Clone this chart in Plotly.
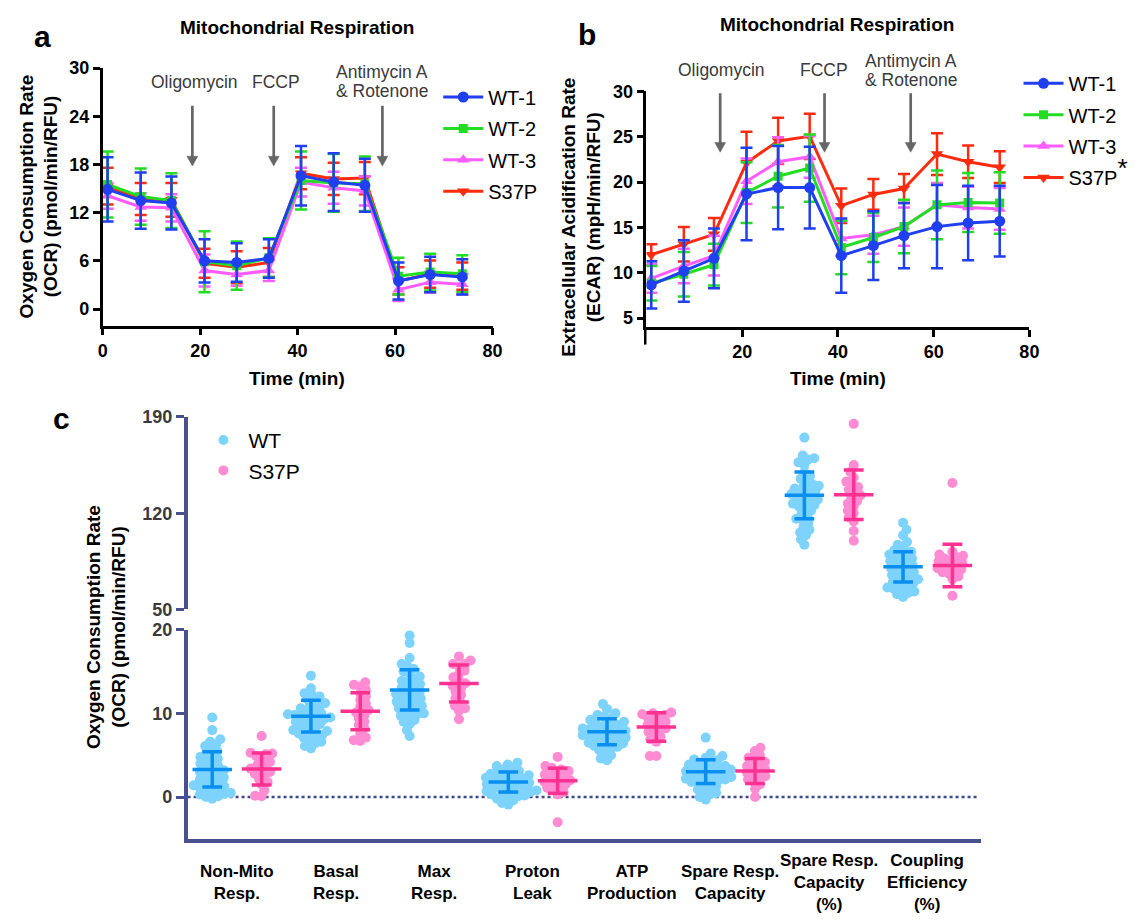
import numpy as np
import plotly.graph_objects as go

W, H = 1144, 924
FONT = "Liberation Sans, Arial, sans-serif"

# ---------------- panels a / b : time courses ----------------
time_min = [1.0, 7.8, 14.1, 20.9, 27.5, 34.1, 40.7, 47.4, 53.8, 60.7, 67.2, 73.8]
series_names = ["WT-1", "WT-2", "WT-3", "S37P"]

ocr_wt1 = [14.9, 13.5, 13.2, 6.0, 5.8, 6.3, 16.6, 15.8, 15.4, 3.5, 4.3, 4.0]
ocr_wt1_sd = [4.0, 3.5, 3.3, 2.7, 2.4, 2.4, 3.7, 3.6, 3.3, 2.3, 2.2, 2.2]
ocr_wt2 = [15.5, 14.0, 13.5, 5.9, 5.4, 6.4, 16.0, 15.7, 15.6, 4.1, 4.6, 4.4]
ocr_wt2_sd = [4.1, 3.5, 3.4, 3.8, 3.0, 2.4, 3.6, 3.6, 3.4, 2.3, 2.3, 2.3]
ocr_wt3 = [14.1, 12.7, 12.6, 4.8, 4.3, 4.8, 15.8, 15.1, 14.7, 2.4, 3.35, 3.1]
ocr_wt3_sd = [1.6, 1.7, 1.7, 2.0, 1.4, 1.3, 1.8, 2.0, 1.8, 1.4, 1.3, 1.3]
ocr_s37p = [15.3, 13.7, 13.6, 5.7, 5.2, 5.8, 16.9, 16.2, 16.3, 3.5, 4.35, 4.1]
ocr_s37p_sd = [2.3, 2.0, 2.1, 1.8, 2.0, 1.8, 2.0, 2.0, 2.0, 1.7, 1.7, 1.7]

ecar_wt1 = [8.67, 10.2, 11.6, 18.7, 19.4, 19.4, 11.9, 13.0, 14.1, 15.1, 15.5, 15.7]
ecar_wt1_sd = [2.6, 3.4, 3.3, 5.1, 4.6, 4.5, 4.1, 3.8, 3.6, 4.6, 4.1, 3.9]
ecar_wt2 = [8.85, 9.85, 10.9, 18.85, 20.65, 21.55, 12.8, 13.9, 15.1, 17.5, 17.75, 17.7]
ecar_wt2_sd = [1.9, 2.45, 2.3, 3.35, 3.45, 3.7, 2.95, 2.7, 2.95, 3.8, 3.25, 3.4]
ecar_wt3 = [9.4, 10.75, 11.9, 20.1, 22.25, 22.8, 13.8, 14.2, 15.1, 17.5, 17.2, 17.05]
ecar_wt3_sd = [1.6, 1.9, 2.2, 2.5, 2.7, 2.3, 1.9, 2.1, 2.1, 2.4, 2.3, 2.3]
ecar_s37p = [12.0, 13.15, 14.25, 22.15, 24.55, 25.05, 17.4, 18.65, 19.3, 23.1, 22.25, 21.65]
ecar_s37p_sd = [1.15, 1.9, 1.8, 3.4, 2.55, 2.5, 1.9, 1.7, 1.6, 2.3, 1.8, 1.75]

injection_a = [18.4, 35.1, 57.4]      # arrow x (min), panel a
injection_b = [15.4, 37.2, 55.2]      # arrow x (min), panel b

# ---------------- panel c : scatter dot plots ----------------
metric_labels = ["Non-Mito<br>Resp.", "Basal<br>Resp.", "Max<br>Resp.", "Proton<br>Leak",
                 "ATP<br>Production", "Spare Resp.<br>Capacity",
                 "Spare Resp.<br>Capacity<br>(%)", "Coupling<br>Efficiency<br>(%)"]
wt_mean = [3.3, 9.66, 12.8, 1.8, 7.8, 3.04, 133.0, 81.0]
wt_sd = [2.1, 1.9, 2.4, 1.2, 1.56, 1.42, 17.0, 11.0]
s37p_mean = [3.35, 10.25, 13.56, 1.95, 8.38, 3.12, 133.5, 82.0]
s37p_sd = [1.9, 2.2, 2.2, 1.5, 1.7, 1.5, 18.0, 15.5]

wt_non_mito = [9.5, 8.0, 6.9, 6.6, 6.3, 6.1, 5.8, 5.5, 5.3, 5.0, 4.8, 4.6, 4.4, 4.2, 4.0, 3.8, 3.6, 3.4, 3.2, 3.0,
               2.9, 2.7, 2.5, 2.3, 2.1, 1.9, 1.8, 1.6, 1.4, 1.3, 1.1, 1.0, 0.8, 0.7, 0.5, 0.4, 0.3, 0.1, 0.0, -0.2]
s37p_non_mito = [7.3, 5.3, 5.2, 5.1, 4.9, 4.5, 4.2, 3.9, 3.6, 3.4, 3.2, 3.0, 2.8, 2.6, 2.2, 1.8, 1.5, 0.8, 0.15, 0.1]
wt_basal = [14.5, 13.0, 12.4, 12.2, 12.0, 11.7, 11.4, 11.2, 11.0, 10.8, 10.6, 10.4, 10.2, 10.0, 9.9, 9.8, 9.7, 9.6,
            9.5, 9.4, 9.3, 9.2, 9.0, 8.9, 8.7, 8.5, 8.4, 8.2, 8.0, 7.9, 7.7, 7.6, 7.4, 7.3, 7.1, 6.9, 6.6, 6.4, 6.1, 5.8]
s37p_basal = [13.7, 13.4, 13.2, 12.8, 12.4, 12.0, 11.6, 11.2, 10.8, 10.4, 10.1, 9.8, 9.4, 9.0, 8.6, 8.2, 7.6, 7.1, 6.8, 6.7]
wt_max = [19.3, 18.4, 16.6, 15.9, 15.6, 15.3, 15.0, 14.7, 14.4, 14.1, 13.9, 13.7, 13.5, 13.3, 13.1, 12.9, 12.7, 12.5,
          12.3, 12.2, 12.0, 11.8, 11.6, 11.4, 11.3, 11.1, 10.9, 10.8, 10.6, 10.4, 10.2, 10.0, 9.9, 9.7, 9.5, 9.2, 9.0,
          8.7, 8.0, 7.3]
s37p_max = [16.8, 16.3, 15.9, 15.9, 15.6, 15.1, 14.7, 14.3, 13.9, 13.6, 13.3, 13.0, 12.6, 12.2, 11.8, 11.3, 10.9, 10.6,
            10.3, 9.3]
wt_proton = [4.1, 3.9, 3.7, 3.5, 3.3, 3.1, 3.0, 2.8, 2.7, 2.6, 2.5, 2.4, 2.3, 2.2, 2.1, 2.0, 1.9, 1.8, 1.7, 1.6,
             1.5, 1.4, 1.3, 1.2, 1.1, 1.0, 0.9, 0.8, 0.7, 0.6, 0.5, 0.4, 0.3, 0.2, 0.1, 0.0, -0.2, -0.4, -0.7, -0.9]
s37p_proton = [4.8, 3.7, 3.5, 3.3, 3.1, 2.9, 2.7, 2.5, 2.4, 2.2, 2.0, 1.8, 1.7, 1.5, 1.3, 1.1, 0.9, 0.6, 0.3, -3.0]
wt_atp = [11.1, 10.5, 10.0, 9.8, 9.6, 9.4, 9.2, 9.0, 8.9, 8.8, 8.6, 8.5, 8.4, 8.2, 8.1, 8.0, 7.9, 7.8, 7.7, 7.6,
          7.5, 7.4, 7.3, 7.2, 7.1, 7.0, 6.9, 6.8, 6.6, 6.5, 6.4, 6.2, 6.1, 6.0, 5.8, 5.6, 5.4, 5.0, 4.6, 4.4]
s37p_atp = [10.1, 10.0, 9.9, 9.8, 9.7, 9.5, 9.2, 9.0, 8.8, 8.6, 8.4, 8.2, 8.0, 7.8, 7.5, 7.2, 6.9, 6.6, 4.9, 4.9]
wt_spare = [7.1, 5.2, 4.9, 4.7, 4.5, 4.4, 4.2, 4.1, 3.9, 3.8, 3.7, 3.6, 3.5, 3.4, 3.3, 3.2, 3.1, 3.0, 2.9, 2.8,
            2.7, 2.6, 2.5, 2.4, 2.3, 2.2, 2.1, 2.0, 1.9, 1.8, 1.7, 1.5, 1.3, 1.1, 0.9, 0.7, 0.5, 0.3, 0.0, -0.3]
s37p_spare = [5.9, 5.5, 5.0, 4.7, 4.5, 4.2, 3.9, 3.7, 3.5, 3.3, 3.1, 2.9, 2.7, 2.5, 2.3, 2.1, 1.8, 1.5, 1.0, 0.0]
wt_spare_pct = [175, 162, 160, 159, 157, 155, 150, 147, 145, 143, 141, 140, 139, 138, 137, 136, 135, 134, 133, 132,
                131, 130, 129, 128, 127, 126, 125, 124, 122, 120, 118, 116, 115, 113, 110, 108, 106, 104, 101, 97]
s37p_spare_pct = [185, 155, 150, 146, 143, 141, 139, 137, 135, 133, 131, 129, 127, 125, 122, 120, 117, 114, 107, 100]
wt_coupling = [113, 108, 104, 99, 97, 95, 93, 92, 91, 90, 89, 88, 87, 86, 85, 84, 83, 82, 81, 80,
               79, 78, 77, 76, 75, 74, 73, 72, 71, 70, 69, 68, 67, 66, 65, 64, 63, 62, 61, 59]
s37p_coupling = [142, 92, 90, 89, 88, 87, 86, 85, 84, 83, 82, 81, 80, 79, 78, 77, 76, 74, 72, 60]

wt_values = [wt_non_mito, wt_basal, wt_max, wt_proton, wt_atp, wt_spare, wt_spare_pct, wt_coupling]
s37p_values = [s37p_non_mito, s37p_basal, s37p_max, s37p_proton, s37p_atp, s37p_spare, s37p_spare_pct, s37p_coupling]

# ---------------- layout geometry (pixels) ----------------
def X(p):
    return p / W


def Y(p):
    return 1 - p / H


A_X, A_Y = (99, 494), (322.7, 59.3)
B_X, B_Y = (650, 1038), (324, 83.3)
C_X, C_LOW, C_UP = (185, 989), (847.3, 633.3), (612.7, 416)
a_xr, a_yr = [0, 80], [-2.07, 30]
b_xr, b_yr = [0, 80], [4.03, 30]
c_xr, c_low_r, c_up_r = [-0.5, 7.54], [-5, 20], [50, 190]

BLUE, GREEN, MAG, RED = "#1f3ff0", "#22dd22", "#ff5cff", "#ff2b0f"
C_AX = "#48508f"
WT_DOT, WT_ERR = "#7dd3fc", "#0a8ef0"
S_DOT, S_ERR = "#ff8cd2", "#ff3291"
ARROW = "#666666"

fig = go.Figure()

styles = [("WT-1", BLUE, "circle", 11, 1), ("WT-2", GREEN, "square", 9, 2),
          ("WT-3", MAG, "triangle-up", 11, 3), ("S37P", RED, "triangle-down", 11, 4)]
ocr = {"WT-1": (ocr_wt1, ocr_wt1_sd), "WT-2": (ocr_wt2, ocr_wt2_sd),
       "WT-3": (ocr_wt3, ocr_wt3_sd), "S37P": (ocr_s37p, ocr_s37p_sd)}
ecar = {"WT-1": (ecar_wt1, ecar_wt1_sd), "WT-2": (ecar_wt2, ecar_wt2_sd),
        "WT-3": (ecar_wt3, ecar_wt3_sd), "S37P": (ecar_s37p, ecar_s37p_sd)}

for name, col, sym, size, rank in reversed(styles):
    for data, xa, ya, lg, disp in [(ocr, "x", "y", "legend", name),
                                    (ecar, "x2", "y2", "legend2",
                                     "S37P<sup><span style='font-size:26px'>*</span></sup>"
                                     if name == "S37P" else name)]:
        vals, sd = data[name]
        fig.add_trace(go.Scatter(
            x=time_min, y=vals, xaxis=xa, yaxis=ya, name=disp, legend=lg,
            legendgroup=lg + name, legendrank=rank, mode="lines+markers",
            line=dict(color=col, width=3),
            marker=dict(symbol=sym, size=size, color=col),
            error_y=dict(type="data", array=sd, color=col, thickness=2.5, width=6),
        ))

# ---------------- panel c ----------------
c_ppx = (C_X[1] - C_X[0]) / (c_xr[1] - c_xr[0])
low_ppy = (C_LOW[0] - C_LOW[1]) / (c_low_r[1] - c_low_r[0])
up_ppy = (C_UP[0] - C_UP[1]) / (c_up_r[1] - c_up_r[0])


def swarm(vals, ppy, d=6.6):
    ys = np.asarray(vals, dtype=float) * ppy
    order = np.argsort(ys)
    xs = np.zeros(len(ys))
    placed = []
    for k, i in enumerate(order):
        y = ys[i]
        ints = []
        for (xj, yj) in placed:
            dy = abs(y - yj)
            if dy < d:
                dx = np.sqrt(d * d - dy * dy)
                ints.append((xj - dx, xj + dx))
        cands = [0.0] + [a for a, b in ints] + [b for a, b in ints]
        sgn = 1 if k % 2 else -1
        cands.sort(key=lambda c: (round(abs(c), 6), sgn * c))
        for c in cands:
            if all(not (a + 1e-6 < c < b - 1e-6) for a, b in ints):
                xs[i] = c
                break
        placed.append((xs[i], y))
    return xs


groups = [("WT", wt_values, wt_mean, wt_sd, -0.25, WT_DOT, WT_ERR),
          ("S37P", s37p_values, s37p_mean, s37p_sd, 0.25, S_DOT, S_ERR)]
for gname, vals_list, means, sds, off, dcol, ecol in groups:
    for part, ya, ppy in [(range(0, 6), "y3", low_ppy), (range(6, 8), "y4", up_ppy)]:
        px_, py_ = [], []
        ex, ey = [], []
        for i in part:
            c = i + off
            dx = swarm(vals_list[i], ppy)
            px_ += list(c + dx / c_ppx)
            py_ += list(vals_list[i])
            m, s = means[i], sds[i]
            ex += [c - 0.2, c + 0.2, None, c, c, None, c - 0.1, c + 0.1, None, c - 0.1, c + 0.1, None]
            ey += [m, m, None, m - s, m + s, None, m + s, m + s, None, m - s, m - s, None]
        fig.add_trace(go.Scatter(
            x=px_, y=py_, xaxis="x3", yaxis=ya, mode="markers", name=gname,
            legend="legend3", showlegend=(ya == "y3"),
            marker=dict(size=10, color=dcol, line=dict(width=0)),
        ))
        fig.add_trace(go.Scatter(
            x=ex, y=ey, xaxis="x3", yaxis=ya, mode="lines", showlegend=False,
            line=dict(color=ecol, width=3.5), hoverinfo="skip",
        ))

# ---------------- axes ----------------
tick_bold = dict(family=FONT, size=18, color="black", weight="bold")
ax_common = dict(showgrid=False, zeroline=False, showline=True, linecolor="black", linewidth=2.5,
                 ticks="outside", ticklen=7, tickwidth=2.5, tickcolor="black", tickfont=tick_bold)
c_tick = dict(family=FONT, size=18, color="#3a3a3a", weight="bold")
c_common = dict(showgrid=False, zeroline=False, showline=True, linecolor=C_AX, linewidth=3.5,
                ticks="outside", ticklen=8, tickwidth=3, tickcolor=C_AX, tickfont=c_tick)

fig.update_layout(
    width=W, height=H, margin=dict(l=0, r=0, t=0, b=0),
    paper_bgcolor="white", plot_bgcolor="white",
    font=dict(family=FONT, color="black"),
    xaxis=dict(domain=[X(A_X[0]), X(A_X[1])], range=a_xr, tickvals=[0, 20, 40, 60, 80], anchor="y", **ax_common),
    yaxis=dict(domain=[Y(A_Y[0]), Y(A_Y[1])], range=a_yr, tickvals=[0, 6, 12, 18, 24, 30], anchor="x", **ax_common),
    xaxis2=dict(domain=[X(B_X[0]), X(B_X[1])], range=b_xr, tickvals=[20, 40, 60, 80], anchor="y2", **ax_common),
    yaxis2=dict(domain=[Y(B_Y[0]), Y(B_Y[1])], range=b_yr, tickvals=[5, 10, 15, 20, 25, 30], anchor="x2", **ax_common),
    xaxis3=dict(domain=[X(C_X[0]), X(C_X[1])], range=c_xr, anchor="y3", showgrid=False, zeroline=False,
                showline=True, linecolor=C_AX, linewidth=3.5, ticks="", showticklabels=False),
    yaxis3=dict(domain=[Y(C_LOW[0]), Y(C_LOW[1])], range=c_low_r, tickvals=[0, 10, 20], anchor="x3", **c_common),
    yaxis4=dict(domain=[Y(C_UP[0]), Y(C_UP[1])], range=c_up_r, tickvals=[50, 120, 190], anchor="x3", **c_common),
    legend=dict(x=X(439), y=Y(69), xanchor="left", yanchor="top", bgcolor="rgba(0,0,0,0)",
                font=dict(family=FONT, size=20, color="black"), traceorder="grouped", tracegroupgap=2.4,
                itemwidth=40),
    legend2=dict(x=X(1027), y=Y(55), xanchor="left", yanchor="top", bgcolor="rgba(0,0,0,0)",
                 font=dict(family=FONT, size=20, color="black"), traceorder="grouped", tracegroupgap=2.4,
                 itemwidth=40),
    legend3=dict(x=X(196), y=Y(419), xanchor="left", yanchor="top", bgcolor="rgba(0,0,0,0)",
                 font=dict(family=FONT, size=21, color="black"), itemwidth=40),
)

shapes = [
    dict(type="line", xref="x3", yref="y3", x0=c_xr[0], x1=7.5, y0=0, y1=0, layer="below",
         line=dict(color="#3d4a8a", width=2.5, dash="dot")),
    dict(type="line", xref="paper", yref="paper", x0=X(B_X[0] - 1.25), x1=X(B_X[0] - 1.25),
         y0=Y(B_Y[0]), y1=Y(342), line=dict(color="black", width=2.5)),
]


def arrows(xs, y_top, y_tip, xr, yr, xpx, ypx, xref, yref):
    hw = 5.5 * (xr[1] - xr[0]) / (xpx[1] - xpx[0])
    hl = 10.0 * (yr[1] - yr[0]) / (ypx[0] - ypx[1])
    for xv in xs:
        shapes.append(dict(type="line", xref=xref, yref=yref, x0=xv, x1=xv, y0=y_top, y1=y_tip + hl * 0.6,
                           line=dict(color=ARROW, width=2.7)))
        shapes.append(dict(type="path", xref=xref, yref=yref,
                           path=f"M {xv - hw} {y_tip + hl} L {xv + hw} {y_tip + hl} L {xv} {y_tip} Z",
                           fillcolor=ARROW, line=dict(color=ARROW, width=0.5)))


arrows(injection_a, 25.3, 17.8, a_xr, a_yr, A_X, A_Y, "x", "y")
arrows(injection_b, 29.8, 23.3, b_xr, b_yr, B_X, B_Y, "x2", "y2")
fig.update_layout(shapes=shapes)

ann = []


def text(xp, yp, s, size, bold=False, color="black", angle=0):
    ann.append(dict(x=X(xp), y=Y(yp), xref="paper", yref="paper", text=s, showarrow=False,
                    xanchor="center", yanchor="middle", textangle=angle,
                    font=dict(family=FONT, size=size, color=color, weight="bold" if bold else "normal")))


# panel letters & titles
text(37.5, 27, "a", 30, True)
text(590, 25, "b", 30, True)
text(57, 418, "c", 30, True)
text(296, 18, "Mitochondrial Respiration", 19, True)
text(843, 15, "Mitochondrial Respiration", 19, True)
text(296, 377, "Time (min)", 19, True)
text(844, 377, "Time (min)", 19, True)
text(34, 191, "Oxygen Consumption Rate<br>(OCR) (pmol/min/RFU)", 19, True, angle=-90)
text(584, 212, "Extracellular Acidification Rate<br>(ECAR) (mpH/min/RFU)", 19, True, angle=-90)
text(103, 631, "Oxygen Consumption Rate<br>(OCR) (pmol/min/RFU)", 19, True, angle=-90)

# injection labels
LAB = "#3a3a3a"
text(191.7, 73.3, "Oligomycin", 17.5, color=LAB)
text(274.3, 73.3, "FCCP", 17.5, color=LAB)
text(381.7, 63.3, "Antimycin A", 17.5, color=LAB)
text(381.7, 83.3, "& Rotenone", 17.5, color=LAB)
text(726, 61.7, "Oligomycin", 17.5, color=LAB)
text(830, 61.7, "FCCP", 17.5, color=LAB)
text(917.7, 51.7, "Antimycin A", 17.5, color=LAB)
text(917.7, 71.7, "& Rotenone", 17.5, color=LAB)

# category labels (panel c)
for i, lab in enumerate(metric_labels):
    ann.append(dict(x=i, y=Y(892), xref="x3", yref="paper", text=lab, showarrow=False,
                    xanchor="center", yanchor="middle",
                    font=dict(family=FONT, size=17, color="black", weight="bold")))

fig.update_layout(annotations=ann)
fig.write_html("out.html")
